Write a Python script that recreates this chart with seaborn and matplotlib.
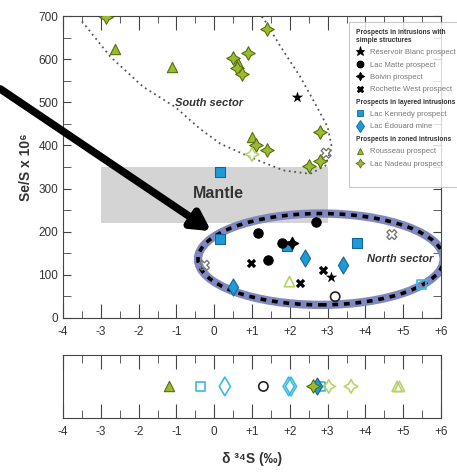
import matplotlib
matplotlib.use("Agg")
import numpy as np
import matplotlib.pyplot as plt
import seaborn as sns
from matplotlib.path import Path
from matplotlib.patches import Rectangle, Ellipse
from matplotlib.lines import Line2D
from matplotlib.ticker import MultipleLocator, FuncFormatter

# ---- data (x = d34S permil, y = Se/S x 10^6) ----
blanc_x = [2.19, 3.09]
blanc_y = [513, 94]
matte_x = [1.17, 1.41, 1.79, 2.70]
matte_y = [197, 133, 174, 223]
boivin_x = [2.05]
boivin_y = [174]
rochette_x = [0.98, 2.26, 2.89]
rochette_y = [127, 80, 111]
kennedy_x = [0.16, 0.16, 3.79, 1.92]
kennedy_y = [338, 182, 174, 166]
edouard_x = [0.49, 2.41, 3.40]
edouard_y = [72, 139, 123]
rousseau_x = [-2.62, -1.11, 0.62, 1.00]
rousseau_y = [624, 583, 592, 419]
nadeau_x = [-2.86, 1.39, 0.50, 0.90, 0.61, 0.73, 1.11, 1.39, 2.80, 2.50, 2.80]
nadeau_y = [697, 671, 603, 615, 580, 566, 400, 390, 431, 353, 363]

# open (hollow) symbols
open_tri_x, open_tri_y = [1.99], [84]
open_circ_x, open_circ_y = [3.20], [49]
open_sq_x, open_sq_y = [5.49], [78]
open_cross_x, open_cross_y = [-0.26, 2.96, 4.70], [122, 382, 193]
open_star_x, open_star_y = [1.00], [379]

# lower strip: d34S only
strip_tri_x = [-1.21]
strip_opentri_x = [4.84, 4.90]
strip_opensq_x = [-0.36, 2.82]
strip_opendia_x = [0.28, 1.97, 2.03]
strip_opencirc_x = [1.30]
strip_nadeau_x = [2.60]
strip_edouard_x = [2.71]
strip_openstar_x = [3.03, 3.62]

# mantle range and sector outlines
mantle_x = [-3, 3]
mantle_y = [220, 350]
north_center = (2.82, 136)
north_size = (6.5, 212)
south_x = [-3.5, -2.75, -1.88, -1.03, -0.37, 0.16, 0.95, 1.83, 2.54, 2.94, 3.11, 3.0, 2.62, 2.27, 1.75, 1.35, 1.25]
south_y = [688, 606, 536, 489, 438, 404, 373, 342, 334, 353, 396, 443, 505, 560, 630, 688, 700]

GREEN = "#9cba2e"
GREEN_EDGE = "#55700f"
LIGHT_GREEN = "#b8d36a"
BLUE = "#1e9ad6"
BLUE_EDGE = "#14669a"
CYAN = "#3bb8e3"

# 4-point star used for Lac Nadeau / Boivin
ang = np.pi / 2 + np.arange(8) * np.pi / 4
rad = np.where(np.arange(8) % 2 == 0, 1.0, 0.5)
verts = list(zip(rad * np.cos(ang), rad * np.sin(ang))) + [(0, 1)]
STAR4 = Path(verts, [Path.MOVETO] + [Path.LINETO] * 7 + [Path.CLOSEPOLY])

sns.set_style("ticks")
plt.rcParams["font.family"] = ["Liberation Sans", "DejaVu Sans"]
plt.rcParams["axes.edgecolor"] = "#444444"
plt.rcParams["xtick.color"] = "#444444"
plt.rcParams["ytick.color"] = "#444444"

fig = plt.figure(figsize=(4.57, 4.75), dpi=100)
ax = fig.add_axes([0.138, 0.331, 0.827, 0.635])
ax2 = fig.add_axes([0.138, 0.120, 0.827, 0.133])

# mantle box
ax.add_patch(Rectangle((mantle_x[0], mantle_y[0]), mantle_x[1] - mantle_x[0],
                       mantle_y[1] - mantle_y[0], facecolor="#d4d4d4",
                       edgecolor="none", zorder=0))
ax.text(np.mean(mantle_x) + 0.1, 288, "Mantle", ha="center", va="center",
        fontsize=11.5, fontweight="bold", color="#333333")

# sector outlines
ax.add_patch(Ellipse(north_center, *north_size, facecolor="none",
                     edgecolor="#8088c0", lw=6, zorder=1))
ax.add_patch(Ellipse(north_center, *north_size, facecolor="none",
                     edgecolor="black", lw=2.6, linestyle=(0, (1.6, 1.6)), zorder=1))
ax.plot(south_x, south_y, color="#555555", lw=1.3, linestyle=(0, (1, 2)), zorder=1)

ax.text(-0.15, 498, "South sector", ha="center", va="center", fontsize=8,
        fontweight="bold", style="italic", color="#333333")
ax.text(4.92, 136, "North sector", ha="center", va="center", fontsize=8,
        fontweight="bold", style="italic", color="#333333")

S = 55


def filled(axis, x, y, marker, fc, ec, s=S, lw=0.8):
    sns.scatterplot(x=x, y=y, ax=axis, marker=marker, color=fc,
                    edgecolor=ec, linewidth=lw, s=s, zorder=3, legend=False)


def hollow(axis, x, y, marker, ec, s=S, lw=1.2):
    sns.scatterplot(x=x, y=y, ax=axis, marker=marker, facecolors="none",
                    edgecolor=ec, linewidth=lw, s=s, zorder=3, legend=False)


filled(ax, rousseau_x, rousseau_y, "^", GREEN, GREEN_EDGE)
filled(ax, nadeau_x, nadeau_y, STAR4, GREEN, GREEN_EDGE, s=95)
filled(ax, kennedy_x, kennedy_y, "s", BLUE, BLUE_EDGE, s=45)
filled(ax, edouard_x, edouard_y, "d", BLUE, BLUE_EDGE, s=75)
filled(ax, matte_x, matte_y, "o", "black", "black", s=45)
filled(ax, boivin_x, boivin_y, STAR4, "black", "black", s=80)
filled(ax, rochette_x, rochette_y, "X", "black", "black", s=45, lw=0)
filled(ax, blanc_x, blanc_y, "*", "black", "black", s=75, lw=0)
hollow(ax, open_tri_x, open_tri_y, "^", LIGHT_GREEN)
hollow(ax, open_star_x, open_star_y, STAR4, LIGHT_GREEN, s=95)
hollow(ax, open_circ_x, open_circ_y, "o", "#222222", s=45)
hollow(ax, open_sq_x, open_sq_y, "s", CYAN, s=45)
hollow(ax, open_cross_x, open_cross_y, "X", "#777777", s=50, lw=1)

# arrow pointing to the north sector
ax.annotate("", xy=(-0.08, 201), xytext=(-5.66, 531), xycoords="data",
            annotation_clip=False,
            arrowprops=dict(arrowstyle="-|>,head_length=1.1,head_width=0.6",
                            lw=5.5, color="black", shrinkA=0, shrinkB=0))

ax.set_xlim(-4, 6)
ax.set_ylim(0, 700)
ax.xaxis.set_major_locator(MultipleLocator(1))
ax.xaxis.set_minor_locator(MultipleLocator(0.5))
ax.yaxis.set_major_locator(MultipleLocator(100))
ax.yaxis.set_minor_locator(MultipleLocator(50))
fmt = FuncFormatter(lambda v, p: f"+{v:.0f}" if v > 0 else f"{v:.0f}")
ax.xaxis.set_major_formatter(fmt)
ax.tick_params(which="both", direction="in", top=True, right=True, labelsize=8.5,
               labelcolor="#333333")
ax.tick_params(axis="x", which="major", length=10, pad=6)
ax.tick_params(axis="x", which="minor", length=5)
ax.tick_params(axis="y", which="both", length=6)
ax.set_ylabel("Se/S x 10⁶", fontsize=10, fontweight="bold", color="#333333", labelpad=4)

# lower strip
filled(ax2, strip_tri_x, [0] * len(strip_tri_x), "^", GREEN, GREEN_EDGE)
hollow(ax2, strip_opentri_x, [0] * len(strip_opentri_x), "^", LIGHT_GREEN)
hollow(ax2, strip_opensq_x, [0] * len(strip_opensq_x), "s", CYAN, s=45)
hollow(ax2, strip_opendia_x, [0] * len(strip_opendia_x), "d", CYAN, s=90)
hollow(ax2, strip_opencirc_x, [0] * len(strip_opencirc_x), "o", "#222222", s=45)
hollow(ax2, strip_openstar_x, [0] * len(strip_openstar_x), STAR4, LIGHT_GREEN, s=95)
filled(ax2, strip_edouard_x, [0] * len(strip_edouard_x), "d", BLUE, BLUE_EDGE, s=75)
filled(ax2, strip_nadeau_x, [0] * len(strip_nadeau_x), STAR4, GREEN, GREEN_EDGE, s=95)
ax2.set_xlim(-4, 6)
ax2.set_ylim(-1, 1)
ax2.set_yticks([])
ax2.xaxis.set_major_locator(MultipleLocator(1))
ax2.xaxis.set_minor_locator(MultipleLocator(0.5))
ax2.xaxis.set_major_formatter(fmt)
ax2.tick_params(which="both", direction="in", top=True, labelsize=8.5,
                labelcolor="#333333")
ax2.tick_params(axis="x", which="major", length=10, pad=6)
ax2.tick_params(axis="x", which="minor", length=6)
ax2.set_xlabel("δ ³⁴S (‰)", fontsize=10, fontweight="bold", color="#333333", labelpad=10)

# legend with group headers
headers = ["Prospects in intrusions with\nsimple structures",
           "Prospects in layered intrusions",
           "Prospects in zoned intrusions"]
blank = Line2D([], [], linestyle="none")


def h(marker, fc, ec, ms=5):
    return Line2D([], [], marker=marker, linestyle="none", markerfacecolor=fc,
                  markeredgecolor=ec, markersize=ms, markeredgewidth=0.6)


handles = [blank, h("*", "black", "black", 6.5), h("o", "black", "black"),
           h(STAR4, "black", "black", 6), h("X", "black", "black"),
           blank, h("s", BLUE, BLUE_EDGE), h("d", BLUE, BLUE_EDGE, 6),
           blank, h("^", GREEN, GREEN_EDGE), h(STAR4, GREEN, GREEN_EDGE, 6.5),
           blank]
labels = [headers[0], "Réservoir Blanc prospect", "Lac Matte prospect",
          "Boivin prospect", "Rochette West prospect",
          headers[1], "Lac Kennedy prospect", "Lac Édouard mine",
          headers[2], "Rousseau prospect", "Lac Nadeau prospect", " "]
leg = fig.legend(handles, labels, loc="upper left", bbox_to_anchor=(0.763, 0.954),
                 fontsize=5.5, frameon=True, fancybox=False, handlelength=1.2,
                 handletextpad=0.7, labelspacing=0.66, borderpad=0.9,
                 borderaxespad=0)
leg.get_frame().set_edgecolor("#bbbbbb")
leg.get_frame().set_linewidth(0.8)
for col in leg._legend_handle_box.get_children():
    for row in col.get_children():
        da, ta = row.get_children()
        if ta.get_text() in headers:
            da.width = 0
            row.sep = 0
for t in leg.get_texts():
    if t.get_text() in headers:
        t.set_fontweight("bold")
        t.set_fontsize(4.8)
        t.set_color("#333333")
    else:
        t.set_color("#777777")

fig.savefig("out.png", dpi=100)
